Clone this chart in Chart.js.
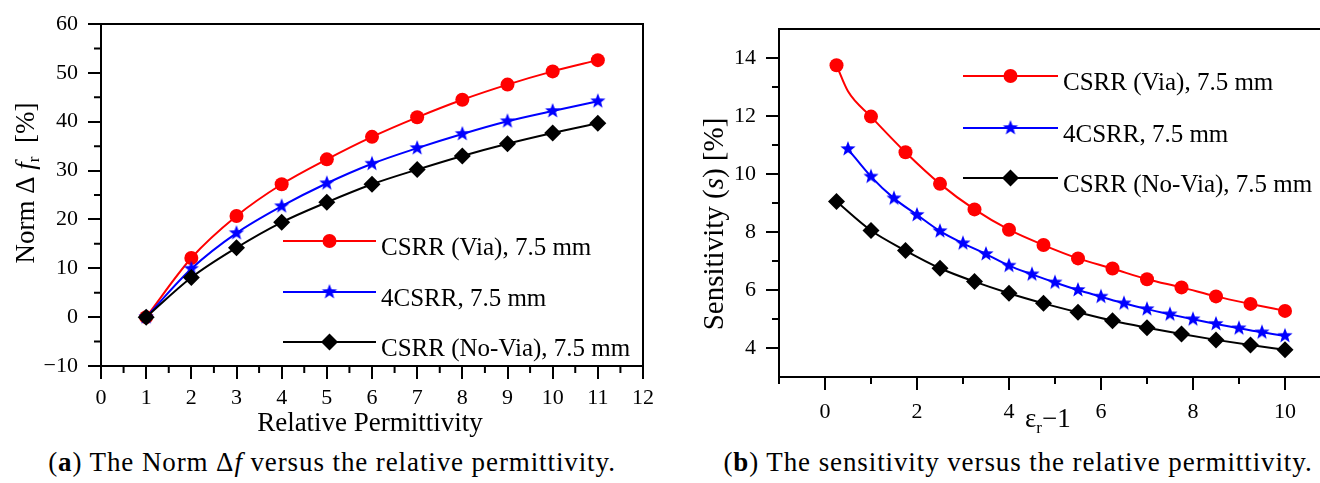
<!DOCTYPE html>
<html>
<head>
<meta charset="utf-8">
<script src="https://cdn.jsdelivr.net/npm/chart.js@4.4.1/dist/chart.umd.min.js"></script>
<style>
  html, body { margin: 0; padding: 0; background: #fff; overflow: hidden; }
  body { width: 1320px; height: 483px; position: relative; }
  #wrapA { position: absolute; left: 0; top: 0; }
  #wrapB { position: absolute; left: 660px; top: 0; }
  .caption { position: absolute; top: 449px; font-family: "Liberation Serif", serif; font-size: 27px;
             letter-spacing: 0.9px; line-height: 1; color: #000; white-space: nowrap; text-align: center; }
</style>
</head>
<body>
<div id="wrapA"><canvas id="normChart" width="660" height="440"></canvas></div>
<div id="wrapB"><canvas id="sensChart" width="700" height="440"></canvas></div>
<div class="caption" style="left:32px;width:600px;">(<b>a</b>) The Norm Δ<i>f</i> versus the relative permittivity.</div>
<div class="caption" style="left:718px;width:600px;">(<b>b</b>) The sensitivity versus the relative permittivity.</div>

<script>
// ---- (a) normalised frequency shift vs relative permittivity ----
const permX = [1, 2, 3, 4, 5, 6, 7, 8, 9, 10, 11];
const normVia = [0, 12.1, 20.7, 27.2, 32.3, 36.9, 40.9, 44.5, 47.6, 50.3, 52.6];
const norm4csrr = [0, 9.9, 17.2, 22.7, 27.4, 31.4, 34.6, 37.5, 40.1, 42.2, 44.2];
const normNoVia = [0, 8.1, 14.2, 19.4, 23.5, 27.2, 30.2, 33.0, 35.5, 37.7, 39.7];

const normXTicks = [0, 1, 2, 3, 4, 5, 6, 7, 8, 9, 10, 11, 12];
const normXMinor = [0.5, 1.5, 2.5, 3.5, 4.5, 5.5, 6.5, 7.5, 8.5, 9.5, 10.5, 11.5];
const normYTicks = [-10, 0, 10, 20, 30, 40, 50, 60];
const normYMinor = [-5, 5, 15, 25, 35, 45, 55];

// ---- (b) sensitivity vs (er - 1) ----
const sensViaX = [0.25, 0.5, 1, 1.75, 2.5, 3.25, 4, 4.75, 5.5, 6.25, 7, 7.75, 8.5, 9.25, 10];
const sensVia = [13.75, 12.85, 11.98, 10.75, 9.66, 8.78, 8.08, 7.55, 7.09, 6.74, 6.37, 6.09, 5.78, 5.52, 5.28];
const sensViaNoMarker = [0.5];
const sens4csrrX = [0.5, 1, 1.5, 2, 2.5, 3, 3.5, 4, 4.5, 5, 5.5, 6, 6.5, 7, 7.5, 8, 8.5, 9, 9.5, 10];
const sens4csrr = [10.86, 9.91, 9.16, 8.59, 8.03, 7.61, 7.24, 6.84, 6.54, 6.26, 6.0, 5.77, 5.54, 5.34, 5.16, 4.99, 4.83, 4.68, 4.54, 4.42];
const sensNoViaX = [0.25, 1, 1.75, 2.5, 3.25, 4, 4.75, 5.5, 6.25, 7, 7.75, 8.5, 9.25, 10];
const sensNoVia = [9.05, 8.05, 7.36, 6.75, 6.29, 5.89, 5.54, 5.23, 4.94, 4.70, 4.48, 4.28, 4.10, 3.94];

const sensXTicks = [0, 2, 4, 6, 8, 10];
const sensXMinor = [-1, 1, 3, 5, 7, 9];
const sensYTicks = [4, 6, 8, 10, 12, 14];
const sensYMinor = [5, 7, 9, 11, 13];

const seriesNames = ['CSRR (Via), 7.5 mm', '4CSRR, 7.5 mm', 'CSRR (No-Via), 7.5 mm'];

const SERIF = '"Liberation Serif", "Times New Roman", serif';

// filled five-point star used as a point style
function makeStar(color, r) {
  const c = document.createElement('canvas');
  const size = Math.ceil(r * 2) + 2;
  c.width = c.height = size;
  const g = c.getContext('2d');
  g.fillStyle = color;
  g.beginPath();
  for (let k = 0; k < 10; k++) {
    const rr = k % 2 === 0 ? r : r * 0.42;
    const a = -Math.PI / 2 + k * Math.PI / 5;
    g.lineTo(size / 2 + rr * Math.cos(a), size / 2 + rr * Math.sin(a));
  }
  g.closePath();
  g.fill();
  return c;
}
const blueStar = makeStar('#0000ff', 8);

function toPoints(xs, ys) {
  return xs.map((x, i) => ({ x: x, y: ys[i] }));
}

function minusLabel(v) {
  return v < 0 ? '\u2212' + Math.abs(v) : String(v);
}

function drawParts(ctx, parts, x, y, align) {
  let total = 0;
  parts.forEach(p => { ctx.font = p.font; p.w = ctx.measureText(p.text).width; total += p.w; });
  let cx = align === 'center' ? x - total / 2 : x;
  ctx.textAlign = 'left';
  ctx.textBaseline = 'alphabetic';
  parts.forEach(p => { ctx.font = p.font; ctx.fillText(p.text, cx, y + (p.dy || 0)); cx += p.w; });
}

// frame, minor ticks, legend and rich axis titles
const figureDeco = {
  id: 'figureDeco',
  afterDraw(chart, args, opts) {
    const ctx = chart.ctx;
    const area = chart.chartArea;
    const xs = chart.scales.x, ys = chart.scales.y;
    ctx.save();
    ctx.strokeStyle = '#000';
    ctx.lineWidth = 2;
    ctx.strokeRect(area.left, area.top, area.right - area.left, area.bottom - area.top);

    ctx.beginPath();
    opts.xMinor.forEach(v => {
      const px = xs.getPixelForValue(v);
      ctx.moveTo(px, area.bottom);
      ctx.lineTo(px, area.bottom + opts.minorLen);
    });
    opts.yMinor.forEach(v => {
      const py = ys.getPixelForValue(v);
      ctx.moveTo(area.left, py);
      ctx.lineTo(area.left - opts.minorLen, py);
    });
    ctx.stroke();

    // legend
    const lg = opts.legend;
    chart.data.datasets.forEach((ds, i) => {
      const y = lg.rows[i];
      ctx.strokeStyle = ds.borderColor;
      ctx.lineWidth = 2;
      ctx.beginPath();
      ctx.moveTo(lg.x1, y);
      ctx.lineTo(lg.x2, y);
      ctx.stroke();
      ctx.fillStyle = ds.backgroundColor;
      Chart.helpers.drawPoint(ctx, {
        pointStyle: ds.pointStyle, radius: ds.legendRadius, rotation: 0, borderWidth: 0
      }, (lg.x1 + lg.x2) / 2, y);
      ctx.fillStyle = '#000';
      ctx.font = lg.font;
      ctx.textAlign = 'left';
      ctx.textBaseline = 'alphabetic';
      ctx.fillText(ds.label, lg.textX, y + lg.textDy);
    });

    // axis titles
    ctx.fillStyle = '#000';
    opts.titles.forEach(t => {
      ctx.save();
      ctx.translate(t.x, t.y);
      if (t.rotate) ctx.rotate(-Math.PI / 2);
      drawParts(ctx, t.parts, 0, 0, t.align || 'center');
      ctx.restore();
    });
    ctx.restore();
  }
};

function axisX(min, max, ticks, height, pad) {
  return {
    type: 'linear', min: min, max: max,
    afterBuildTicks: s => { s.ticks = ticks.map(v => ({ value: v })); },
    afterFit: s => { s.height = height; },
    grid: { drawOnChartArea: false, drawTicks: true, tickLength: 13, lineWidth: 2, color: '#000' },
    border: { display: true, width: 2, color: '#000' },
    ticks: { color: '#000', font: { family: SERIF, size: 22 }, padding: pad,
             maxRotation: 0, autoSkip: false, callback: minusLabel }
  };
}
function axisY(min, max, ticks, width) {
  return {
    type: 'linear', min: min, max: max,
    afterBuildTicks: s => { s.ticks = ticks.map(v => ({ value: v })); },
    afterFit: s => { s.width = width; },
    grid: { drawOnChartArea: false, drawTicks: true, tickLength: 13, lineWidth: 2, color: '#000' },
    border: { display: true, width: 2, color: '#000' },
    ticks: { color: '#000', font: { family: SERIF, size: 22 }, padding: 10,
             autoSkip: false, callback: minusLabel }
  };
}

function seriesSet(label, pts, color, style, radius, order) {
  return {
    label: label, data: pts, borderColor: color, backgroundColor: color,
    pointBackgroundColor: color, borderWidth: 2, pointStyle: style,
    pointRadius: radius, pointBorderWidth: 0, legendRadius: radius,
    cubicInterpolationMode: 'monotone', order: order, clip: false
  };
}

const F27 = '27px ' + SERIF;
const F27i = 'italic 27px ' + SERIF;
const F29 = '29px ' + SERIF;
const F29i = 'italic 29px ' + SERIF;
const F17 = '17px ' + SERIF;

new Chart(document.getElementById('normChart'), {
  type: 'line',
  data: {
    datasets: [
      seriesSet(seriesNames[0], toPoints(permX, normVia), '#ff0000', 'circle', 7, 3),
      seriesSet(seriesNames[1], toPoints(permX, norm4csrr), '#0000ff', blueStar, 8, 2),
      seriesSet(seriesNames[2], toPoints(permX, normNoVia), '#000000', 'rectRot', 8.5, 1)
    ]
  },
  options: {
    responsive: false, animation: false,
    layout: { padding: { top: 24, right: 13, left: 0, bottom: 0 } },
    scales: { x: axisX(0, 12, normXTicks, 74, 6), y: axisY(-10, 60, normYTicks, 101) },
    plugins: {
      legend: { display: false }, tooltip: { enabled: false },
      figureDeco: {
        xMinor: normXMinor, yMinor: normYMinor, minorLen: 7,
        legend: { x1: 283, x2: 376, rows: [241, 292, 342], textX: 381, textDy: 14, font: '25px ' + SERIF },
        titles: [
          { x: 370, y: 431, parts: [{ text: 'Relative Permittivity', font: F27 }] },
          { x: 34, y: 183, rotate: true, parts: [
            { text: 'Norm \u0394 ', font: F27 },
            { text: 'f', font: F27i },
            { text: 'r', font: F17, dy: 5 },
            { text: '  [%]', font: F27 }
          ] }
        ]
      }
    }
  },
  plugins: [figureDeco]
});

new Chart(document.getElementById('sensChart'), {
  type: 'line',
  data: {
    datasets: [
      Object.assign(seriesSet(seriesNames[0], toPoints(sensViaX, sensVia), '#ff0000', 'circle', 7, 3), {
        pointRadius: c => (c.raw && sensViaNoMarker.includes(c.raw.x) ? 0 : 7)
      }),
      seriesSet(seriesNames[1], toPoints(sens4csrrX, sens4csrr), '#0000ff', blueStar, 8, 2),
      seriesSet(seriesNames[2], toPoints(sensNoViaX, sensNoVia), '#000000', 'rectRot', 8.5, 1)
    ]
  },
  options: {
    responsive: false, animation: false,
    layout: { padding: { top: 29, right: 29, left: 0, bottom: 0 } },
    scales: { x: axisX(-1, 11, sensXTicks, 63, 9), y: axisY(3, 15, sensYTicks, 119) },
    plugins: {
      legend: { display: false }, tooltip: { enabled: false },
      figureDeco: {
        xMinor: sensXMinor, yMinor: sensYMinor, minorLen: 7,
        legend: { x1: 303, x2: 398, rows: [76, 128, 178], textX: 403, textDy: 14, font: '25px ' + SERIF },
        titles: [
          { x: 365, y: 427, align: 'left', parts: [
            { text: '\u03b5', font: '27px ' + SERIF },
            { text: 'r', font: F17, dy: 6 },
            { text: '\u22121', font: '27px ' + SERIF }
          ] },
          { x: 63, y: 224, rotate: true, parts: [
            { text: 'Sensitivity (', font: F29 },
            { text: 's', font: F29i },
            { text: ') [%]', font: F29 }
          ] }
        ]
      }
    }
  },
  plugins: [figureDeco]
});
</script>
</body>
</html>
